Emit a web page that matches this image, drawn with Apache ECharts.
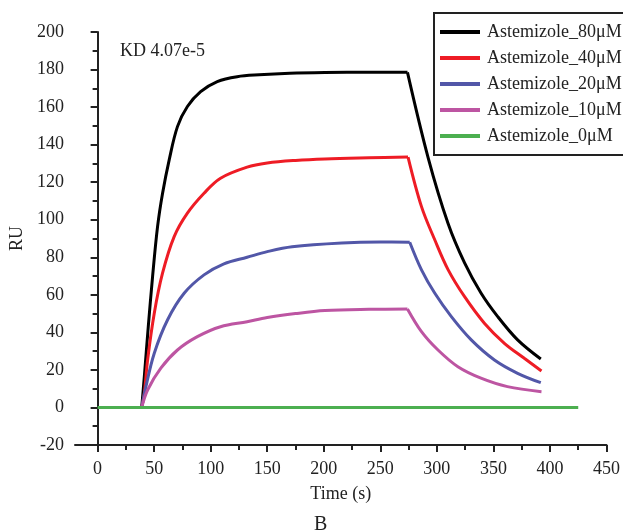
<!DOCTYPE html>
<html>
<head>
    <meta charset="utf-8">
    <title>Astemizole SPR</title>
    <script src="https://cdn.jsdelivr.net/npm/echarts@6.0.0/dist/echarts.min.js"></script>
    <style>
        body { margin: 0; padding: 0; background: #fff; }
        #chart { width: 623px; height: 531px; }
    </style>
</head>
<body>
    <div id="chart"></div>
    <script>
        const names = ['Astemizole_80μM', 'Astemizole_40μM', 'Astemizole_20μM', 'Astemizole_10μM', 'Astemizole_0μM'];
        const colors = ['#000000', '#ee1c25', '#5257a8', '#bd55a2', '#4caf50'];

        // association phase (time s, RU)
        const tA80 = [39, 41.3, 44.8, 48.6, 53, 57.4, 63.3, 70.6, 79.4, 91.1, 105.8, 123.4, 142.8, 170, 201, 240, 274];
        const vA80 = [0, 16.4, 43, 69.7, 96.3, 114, 131.9, 149.6, 160.3, 168.2, 173.6, 176.2, 177.2, 178, 178.4, 178.6, 178.5];
        const tA40 = [39, 41.3, 44.2, 50.1, 57.4, 67.7, 79.4, 94.1, 108.7, 132.2, 150, 175, 201, 240, 274.5];
        const vA40 = [0, 7.6, 25.3, 50.2, 71.5, 91, 103.5, 114.1, 122.1, 128, 130.2, 131.6, 132.4, 133, 133.4];
        const tA20 = [39, 42.7, 50.1, 61.8, 76.5, 94.1, 111.7, 132.2, 150, 172, 216, 250, 276];
        const vA20 = [0, 11.1, 28.9, 46.6, 60.8, 70.6, 76.5, 80, 83, 85.6, 87.6, 88.1, 88];
        const tA10 = [39, 44.2, 55.9, 70.6, 88.2, 108.7, 132.2, 150, 175, 201, 240, 274];
        const vA10 = [0, 9.3, 20.9, 30.6, 37.7, 43, 45.7, 47.9, 50, 51.6, 52.3, 52.5];

        // dissociation phase
        const tD80 = [274, 292.3, 309.9, 324.5, 339, 353.8, 371.4, 391.9];
        const vD80 = [178.5, 133, 98, 77, 61, 48.4, 36, 25.8];
        const tD40 = [274.5, 286.4, 298.2, 310, 324.5, 342, 359.7, 377.3, 392.5];
        const vD40 = [133.4, 107, 89.2, 73.3, 59, 44.9, 34.2, 26.2, 19.4];
        const tD20 = [276, 286.4, 298.2, 312.8, 330.4, 350.9, 371.4, 391.9];
        const vD20 = [88, 73.3, 60.8, 48.4, 36, 25.3, 18.2, 13.2];
        const tD10 = [274, 286.4, 301, 318.6, 339, 362.4, 392.5];
        const vD10 = [52.5, 40.4, 30.6, 21.7, 15.6, 11.1, 8.4];

        const t0 = [0, 425];
        const v0 = [0, 0];

        const xTicks = [0, 50, 100, 150, 200, 250, 300, 350, 400, 450];
        const xMinorTicks = [25, 75, 125, 175, 225, 275, 325, 375, 425];

        const font = 'Liberation Serif';
        const ink = '#222';

        function zip(t, v) {
            return t.map((x, i) => [x, v[i]]);
        }

        function curve(idx, t, v) {
            return {
                name: names[idx],
                type: 'line',
                data: zip(t, v),
                smooth: 0.35,
                showSymbol: false,
                color: colors[idx],
                lineStyle: { width: 3, color: colors[idx] },
                emphasis: { disabled: true }
            };
        }

        const chart = echarts.init(document.getElementById('chart'));
        chart.setOption({
            animation: false,
            title: {
                text: 'KD 4.07e-5',
                left: 115,
                top: 37,
                textStyle: { fontFamily: font, fontSize: 18, fontWeight: 'normal', color: ink }
            },
            legend: {
                orient: 'vertical',
                left: 434,
                top: 13,
                data: names,
                icon: 'rect',
                itemWidth: 40,
                itemHeight: 4,
                itemGap: 6,
                padding: [9, 30, 9, 6],
                borderColor: ink,
                borderWidth: 2,
                textStyle: { fontFamily: font, fontSize: 18, lineHeight: 20, color: ink, padding: [0, 0, 0, 2] }
            },
            grid: { left: 75, right: 14, top: 32, bottom: 86 },
            xAxis: [{
                type: 'value',
                min: -20,
                max: 450,
                name: 'Time (s)',
                nameLocation: 'middle',
                nameGap: 40,
                nameTextStyle: { fontFamily: font, fontSize: 18, color: ink },
                splitLine: { show: false },
                axisLine: { onZero: false, lineStyle: { color: ink, width: 2 } },
                axisTick: { customValues: xTicks, length: 7, lineStyle: { color: ink, width: 2 } },
                axisLabel: { customValues: xTicks, margin: 15, fontFamily: font, fontSize: 18, color: ink }
            }, {
                type: 'value',
                min: -20,
                max: 450,
                position: 'bottom',
                splitLine: { show: false },
                axisLine: { show: false, onZero: false },
                axisTick: { customValues: xMinorTicks, length: 5, lineStyle: { color: ink, width: 2 } },
                axisLabel: { show: false }
            }],
            yAxis: {
                type: 'value',
                min: -20,
                max: 200,
                interval: 20,
                name: 'RU',
                nameLocation: 'middle',
                nameGap: 43,
                nameTextStyle: { fontFamily: font, fontSize: 18, color: ink },
                splitLine: { show: false },
                axisLine: { show: true, lineStyle: { color: ink, width: 2 } },
                axisTick: { length: 7, lineStyle: { color: ink, width: 2 } },
                minorTick: { show: true, splitNumber: 2, length: 5, lineStyle: { color: ink, width: 2 } },
                axisLabel: { margin: 11, fontFamily: font, fontSize: 18, color: ink }
            },
            graphic: [{
                type: 'text',
                left: 314,
                top: 515,
                style: { text: 'B', fontFamily: font, fontSize: 20, fill: ink }
            }],
            series: [
                curve(0, tA80, vA80), curve(0, tD80, vD80),
                curve(1, tA40, vA40), curve(1, tD40, vD40),
                curve(2, tA20, vA20), curve(2, tD20, vD20),
                curve(3, tA10, vA10), curve(3, tD10, vD10),
                Object.assign(curve(4, t0, v0), { smooth: false })
            ]
        });

        window.addEventListener('resize', () => chart.resize());
    </script>
</body>
</html>
